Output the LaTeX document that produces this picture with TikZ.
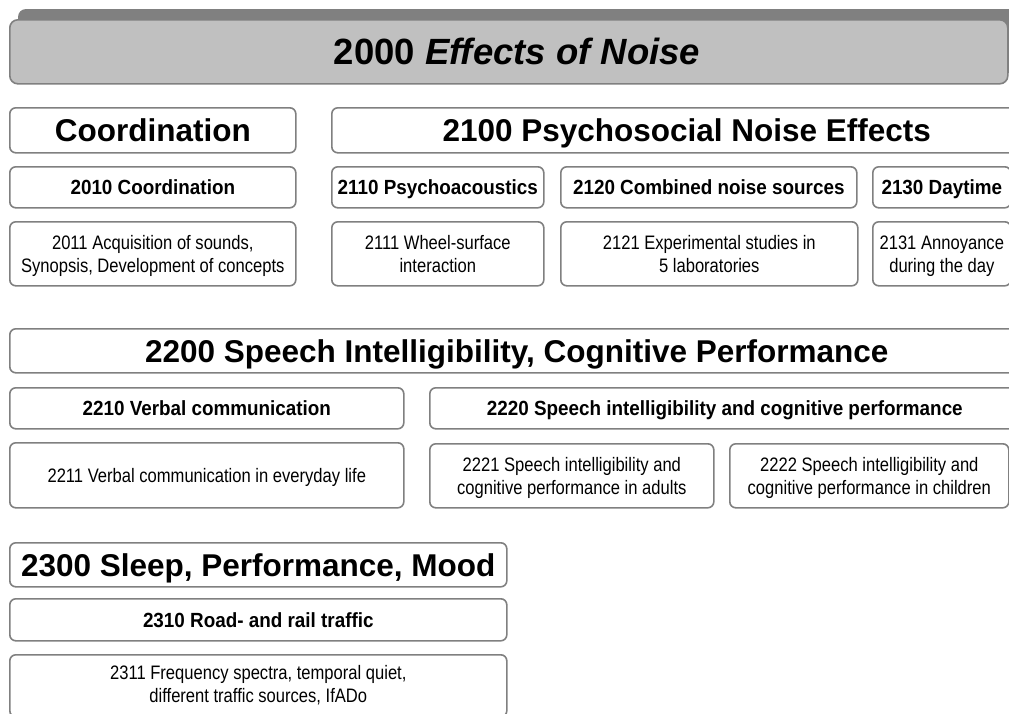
\documentclass[tikz,border=0pt]{standalone}
\usepackage{fontspec}
\setmainfont{Liberation Sans}
\newfontfamily\midfont[FakeStretch=0.92]{Liberation Sans}
\newfontfamily\leaffont[FakeStretch=0.85]{Liberation Sans}
\definecolor{bordergray}{HTML}{808080}
\definecolor{bannerfill}{HTML}{C0C0C0}
\definecolor{bannerdark}{HTML}{808080}
\tikzset{
  box/.style={draw=bordergray, line width=1.6pt, rounded corners=6pt, fill=white,
    inner sep=0pt, anchor=north west, align=center},
  bighead/.style={box, font=\fontsize{31.5}{36}\selectfont\bfseries, text height=22.6pt, text depth=0pt},
  midhead/.style={box, font=\midfont\fontsize{20.5}{24}\selectfont\bfseries, text height=14.7pt, text depth=0pt},
  leaf/.style={box, font=\leaffont\fontsize{19.5}{23.5}\selectfont, text height=14pt, text depth=0pt},
  twoline/.style={text height=37.5pt, text depth=0pt},
}
\begin{document}
\begin{tikzpicture}[x=1pt,y=-1pt]
\useasboundingbox (0,0) rectangle (1009,713);
\clip (0,0) rectangle (1009,713);
% banner
\fill[bannerdark, rounded corners=8pt] (18,9) rectangle (1030,73);
\node[box, fill=bannerfill, draw=bordergray, rounded corners=8pt, minimum width=998pt, minimum height=64pt] (banner) at (9,19) {};
\node[font=\fontsize{36.5}{40}\selectfont\bfseries, inner sep=0pt, text height=26.1pt, text depth=0pt] (title) at (517,51) {2000 \textit{Effects of Noise}};
% row 1
\node[bighead, minimum width=286pt, minimum height=45pt] (coord) at (9,107) {Coordination};
\node[bighead, minimum width=710pt, minimum height=45pt] (n2100) at (331,107) {2100 Psychosocial Noise Effects};
% row 2
\node[midhead, minimum width=286pt, minimum height=41pt] (n2010) at (9,166) {2010 Coordination};
\node[midhead, minimum width=212pt, minimum height=41pt] (n2110) at (331,166) {2110 Psychoacoustics};
\node[midhead, minimum width=296pt, minimum height=41pt] (n2120) at (560,166) {2120 Combined noise sources};
\node[midhead, minimum width=138pt, minimum height=41pt] (n2130) at (872,166) {2130 Daytime};
% row 3
\node[leaf, twoline, minimum width=286pt, minimum height=64pt] (n2011) at (9,221) {2011 Acquisition of sounds,\\Synopsis, Development of concepts};
\node[leaf, twoline, minimum width=212pt, minimum height=64pt] (n2111) at (331,221) {2111 Wheel-surface\\interaction};
\node[leaf, twoline, minimum width=297pt, minimum height=64pt] (n2121) at (560,221) {2121 Experimental studies in\\5 laboratories};
\node[leaf, twoline, minimum width=138pt, minimum height=64pt] (n2131) at (872,221) {2131 Annoyance\\during the day};
% 2200
\node[bighead, minimum width=1014pt, minimum height=44pt] (n2200) at (9,328) {2200 Speech Intelligibility, Cognitive Performance};
\node[midhead, minimum width=394pt, minimum height=41pt] (n2210) at (9,387) {2210 Verbal communication};
\node[midhead, minimum width=590pt, minimum height=41pt] (n2220) at (429,387) {2220 Speech intelligibility and cognitive performance};
\node[leaf, minimum width=394pt, minimum height=65pt] (n2211) at (9,442) {2211 Verbal communication in everyday life};
\node[leaf, twoline, minimum width=284pt, minimum height=64pt] (n2221) at (429,443) {2221 Speech intelligibility and\\cognitive performance in adults};
\node[leaf, twoline, minimum width=279pt, minimum height=64pt] (n2222) at (729,443) {2222 Speech intelligibility and\\cognitive performance in children};
% 2300
\node[bighead, minimum width=497pt, minimum height=44pt] (n2300) at (9,542) {2300 Sleep, Performance, Mood};
\node[midhead, minimum width=497pt, minimum height=42pt] (n2310) at (9,598) {2310 Road- and rail traffic};
\node[leaf, twoline, text depth=4pt, minimum width=497pt, minimum height=62pt] (n2311) at (9,654) {2311 Frequency spectra, temporal quiet,\\different traffic sources, IfADo};
\end{tikzpicture}
\end{document}
